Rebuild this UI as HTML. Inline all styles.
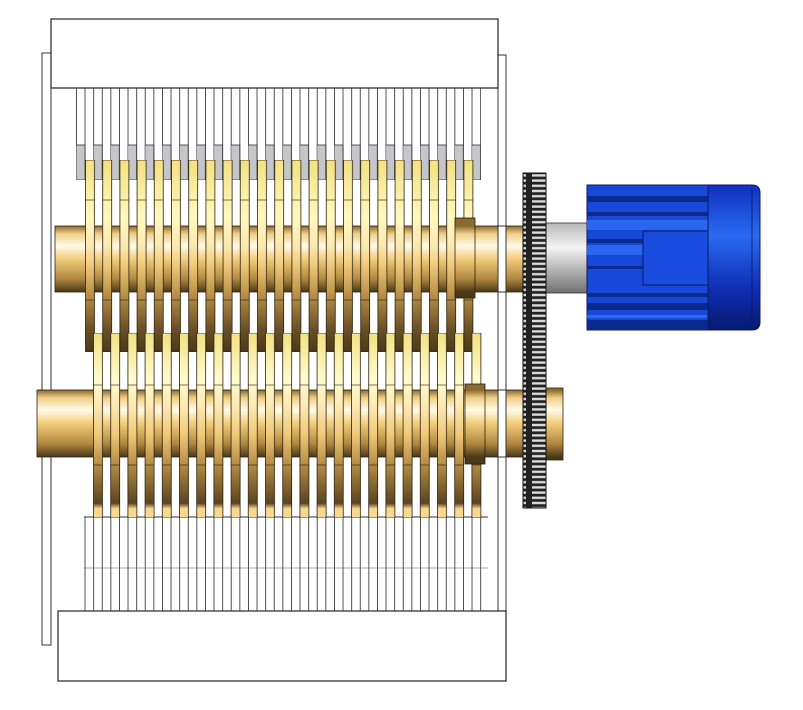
<!DOCTYPE html>
<html><head><meta charset="utf-8"><style>html,body{margin:0;padding:0;background:#fff}svg{display:block}</style></head>
<body>
<svg width="803" height="710" viewBox="0 0 803 710" xmlns="http://www.w3.org/2000/svg">
<defs>
<linearGradient id="shaftU" gradientUnits="userSpaceOnUse" x1="0" y1="226" x2="0" y2="292">
<stop offset="0" stop-color="#8a6a30"/><stop offset="0.12" stop-color="#f0d088"/><stop offset="0.3" stop-color="#fffbe8"/><stop offset="0.5" stop-color="#f3cc7a"/><stop offset="0.8" stop-color="#b08840"/><stop offset="1" stop-color="#4a3818"/></linearGradient>
<linearGradient id="shaftL" gradientUnits="userSpaceOnUse" x1="0" y1="390" x2="0" y2="457">
<stop offset="0" stop-color="#8a6a30"/><stop offset="0.12" stop-color="#f0d088"/><stop offset="0.3" stop-color="#fffbe8"/><stop offset="0.5" stop-color="#f3cc7a"/><stop offset="0.8" stop-color="#b08840"/><stop offset="1" stop-color="#4a3818"/></linearGradient>
<linearGradient id="bladeU" gradientUnits="userSpaceOnUse" x1="0" y1="160" x2="0" y2="352">
<stop offset="0" stop-color="#f3e080"/><stop offset="0.3" stop-color="#fff8c0"/><stop offset="0.45" stop-color="#fbe8b0"/><stop offset="0.55" stop-color="#f0c878"/><stop offset="0.7" stop-color="#b89048"/><stop offset="0.88" stop-color="#6a5028"/><stop offset="1" stop-color="#4a3818"/></linearGradient>
<linearGradient id="bladeL" gradientUnits="userSpaceOnUse" x1="0" y1="333" x2="0" y2="518">
<stop offset="0" stop-color="#f5e080"/><stop offset="0.25" stop-color="#fffbd0"/><stop offset="0.4" stop-color="#fbe8b0"/><stop offset="0.55" stop-color="#f0c878"/><stop offset="0.7" stop-color="#b89048"/><stop offset="0.92" stop-color="#5a4420"/><stop offset="0.95" stop-color="#f8d890"/><stop offset="1" stop-color="#f8d890"/></linearGradient>
<pattern id="pU" patternUnits="userSpaceOnUse" x="85" y="0" width="17.2" height="710">
<rect x="0.5" y="160" width="9" height="192" fill="url(#bladeU)" stroke="#2a2010" stroke-width="0.8"/>
<line x1="0" y1="200" x2="9.5" y2="200" stroke="#2a2010" stroke-width="0.6"/>
<line x1="0" y1="300" x2="9.5" y2="300" stroke="#2a2010" stroke-width="0.6"/>
</pattern>
<pattern id="pL" patternUnits="userSpaceOnUse" x="93" y="0" width="17.2" height="710">
<rect x="0.5" y="333" width="9" height="185" fill="url(#bladeL)" stroke="#2a2010" stroke-width="0.8"/>
<line x1="0" y1="385" x2="9.5" y2="385" stroke="#2a2010" stroke-width="0.6"/>
<line x1="0" y1="465" x2="9.5" y2="465" stroke="#2a2010" stroke-width="0.6"/>
</pattern>
<pattern id="comb" patternUnits="userSpaceOnUse" x="76" y="0" width="8.6" height="710">
<line x1="0.4" y1="0" x2="0.4" y2="710" stroke="#333" stroke-width="0.9"/>
</pattern>
<pattern id="gray" patternUnits="userSpaceOnUse" x="76" y="0" width="17.2" height="710">
<rect x="0" y="145" width="9" height="35" fill="#c4c6ca" stroke="#333" stroke-width="0.8"/>
</pattern>
<pattern id="gear" patternUnits="userSpaceOnUse" x="0" y="173" width="23" height="5.2">
<rect width="23" height="5.2" fill="#222"/><rect x="3" y="1.2" width="17" height="2.4" fill="#dcdcdc"/>
</pattern>
<linearGradient id="grey" x1="0" y1="0" x2="0" y2="1"><stop offset="0" stop-color="#b8b8b8"/><stop offset="0.35" stop-color="#f4f4f4"/><stop offset="1" stop-color="#707070"/></linearGradient>
<linearGradient id="cap" x1="0" y1="0" x2="0" y2="1"><stop offset="0" stop-color="#1030c0"/><stop offset="0.35" stop-color="#2a6af0"/><stop offset="0.7" stop-color="#1030b8"/><stop offset="1" stop-color="#061a70"/></linearGradient>
</defs>

<rect x="42" y="53" width="9" height="592" fill="#fff" stroke="#333" stroke-width="1"/>
<rect x="498" y="55" width="8" height="590" fill="#fff" stroke="#333" stroke-width="1"/>
<rect x="51" y="19" width="447" height="69" fill="#fff" stroke="#222" stroke-width="1.2"/>
<rect x="58" y="611" width="448" height="70" fill="#fff" stroke="#222" stroke-width="1.2"/>

<rect x="76" y="88" width="405" height="92" fill="url(#comb)"/>
<rect x="76" y="88" width="405" height="92" fill="url(#gray)"/>
<rect x="84" y="517" width="404" height="94" fill="url(#comb)"/>
<line x1="84" y1="517" x2="488" y2="517" stroke="#333"/>
<line x1="84" y1="568" x2="488" y2="568" stroke="#555" stroke-width="0.6"/>

<rect x="55" y="226" width="468" height="66" fill="url(#shaftU)" stroke="#2a2010" stroke-width="0.8"/>
<rect x="85" y="160" width="392" height="192" fill="url(#pU)"/>
<rect x="455" y="218" width="20" height="80" fill="url(#shaftU)" stroke="#2a2010" stroke-width="0.8"/>

<rect x="37" y="390" width="509" height="67" fill="url(#shaftL)" stroke="#2a2010" stroke-width="0.8"/>
<rect x="93" y="333" width="395" height="185" fill="url(#pL)"/>
<rect x="465" y="384" width="20" height="80" fill="url(#shaftL)" stroke="#2a2010" stroke-width="0.8"/>
<rect x="498" y="390" width="8" height="67" fill="#fff" stroke="#333"/>
<rect x="498" y="226" width="8" height="66" fill="#fff" stroke="#333"/>
<rect x="546" y="388" width="17" height="72" fill="url(#shaftL)" stroke="#2a2010" stroke-width="0.8"/>

<rect x="546" y="223" width="41" height="70" fill="url(#grey)" stroke="#333" stroke-width="0.8"/>
<rect x="523" y="173" width="23" height="335" fill="url(#gear)" stroke="#111"/>

<rect x="587" y="185" width="121" height="145" fill="#1848d8" stroke="#0a1a60"/>
<g fill="#0a2a90">
<rect x="587" y="196" width="121" height="6"/><rect x="587" y="212" width="121" height="4"/>
<rect x="587" y="239" width="56" height="4"/><rect x="587" y="266" width="56" height="3"/>
<rect x="587" y="293" width="121" height="4"/><rect x="587" y="303" width="121" height="7"/>
<rect x="587" y="320" width="121" height="10"/>
</g>
<g fill="#2a66f0"><rect x="587" y="220" width="121" height="10"/><rect x="587" y="245" width="56" height="10"/><rect x="587" y="315" width="121" height="3"/></g>
<rect x="643" y="231" width="65" height="54" fill="#1a4ce0" stroke="#0a1a60"/>
<path d="M708 185 H752 Q760 185 760 193 V322 Q760 330 752 330 H708 Z" fill="url(#cap)" stroke="#0a1a60"/>
<line x1="752" y1="188" x2="752" y2="328" stroke="#0a1a60" stroke-width="0.8"/>
</svg>
</body></html>
